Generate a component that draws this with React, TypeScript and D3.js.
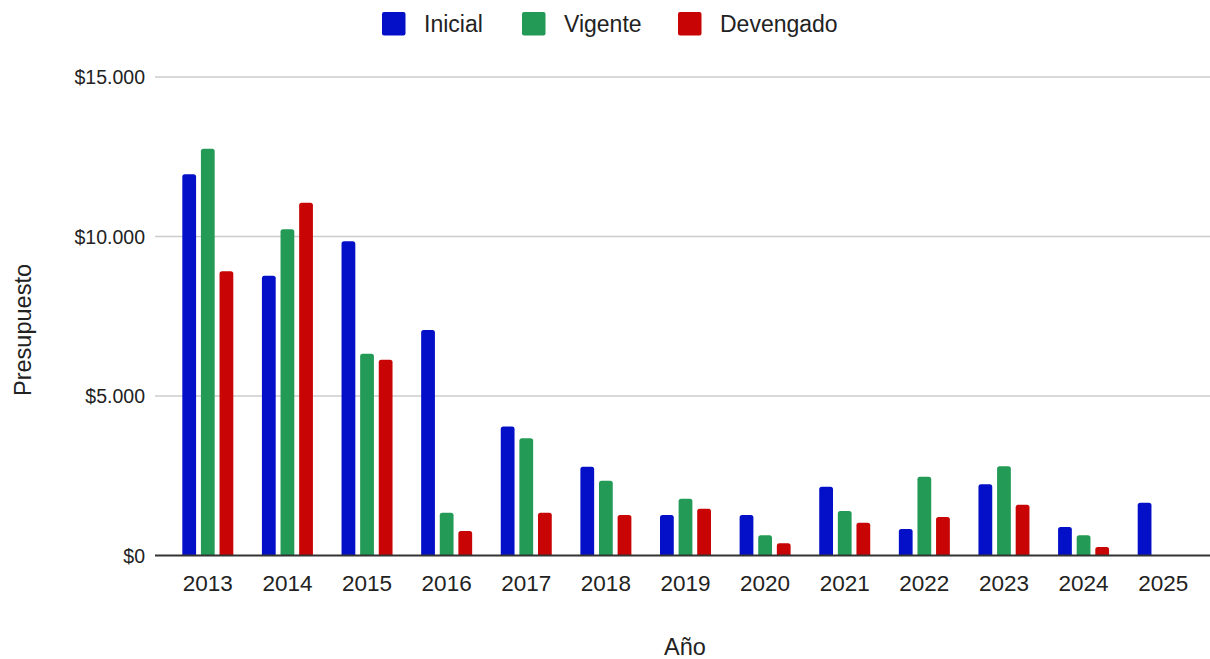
import React from "react";
import * as d3 from "d3";

const years = ["2013","2014","2015","2016","2017","2018","2019","2020","2021","2022","2023","2024","2025"];
const inicial = [11950, 8770, 9855, 7070, 4040, 2784, 1270, 1270, 2157, 830, 2232, 893, 1655];
const vigente = [12750, 10225, 6323, 1341, 3674, 2345, 1780, 633, 1395, 2470, 2796, 633, 0];
const devengado = [8910, 11055, 6135, 768, 1340, 1270, 1467, 382, 1028, 1207, 1592, 266, 0];
const seriesNames = ["Inicial", "Vigente", "Devengado"];
const seriesColors = ["#0410c8", "#239a56", "#c80404"];
const yTicks = [0, 5000, 10000, 15000];

const W = 1210, H = 659;
const font = "'Liberation Sans', Arial, sans-serif";

function topRounded(x: number, y: number, w: number, h: number, r: number) {
  if (h <= 0) return "";
  const rr = Math.min(r, h, w / 2);
  return `M${x},${y + h}V${y + rr}Q${x},${y} ${x + rr},${y}H${x + w - rr}Q${x + w},${y} ${x + w},${y + rr}V${y + h}Z`;
}

export default function App() {
  const series = [inicial, vigente, devengado];
  const x = d3.scaleBand<string>().domain(years).range([168, 1203]).paddingInner(0).paddingOuter(0);
  const y = d3.scaleLinear().domain([0, 15000]).range([555.5, 77]);
  const inner = d3.scaleBand<number>().domain([0, 1, 2]).range([0, 51]).paddingInner(0.26);
  const fmt = (v: number) => "$" + d3.format(",")(v).replace(/,/g, ".");
  const legendX = [382, 522, 678];

  return (
    <svg width={W} height={H} style={{ position: "absolute", left: 0, top: 0, background: "#fff" }} fontFamily={font}>
      <rect width={W} height={H} fill="#fff" />
      {seriesNames.map((n, i) => (
        <g key={n}>
          <rect x={legendX[i]} y={12} width={23.5} height={23.5} rx={2} fill={seriesColors[i]} />
          <text x={legendX[i] + 42} y={32} fontSize={23} fill="#222">{n}</text>
        </g>
      ))}
      {yTicks.map((t) => (
        <g key={t}>
          {t !== 0 && <line x1={155} x2={1210} y1={y(t)} y2={y(t)} stroke="#cccccc" strokeWidth={1.5} />}
          <text x={145} y={y(t) + 7} fontSize={19.5} textAnchor="end" fill="#222">{fmt(t)}</text>
        </g>
      ))}
      {years.map((yr, i) => {
        const cx = (x(yr) as number) + x.bandwidth() / 2;
        const gx = cx - 25.5;
        return (
          <g key={yr}>
            {series.map((s, k) => {
              const v = s[i];
              const top = y(v);
              return (
                <path key={k} d={topRounded(gx + (inner(k) as number), top, inner.bandwidth(), y(0) - top, 2.5)} fill={seriesColors[k]} />
              );
            })}
            <text x={cx} y={591} fontSize={22.5} textAnchor="middle" fill="#222">{yr}</text>
          </g>
        );
      })}
      <line x1={155} x2={1210} y1={y(0)} y2={y(0)} stroke="#333" strokeWidth={2} />
      <text x={685} y={655} fontSize={23.5} textAnchor="middle" fill="#222">Año</text>
      <text transform={`translate(31,330) rotate(-90)`} fontSize={23.5} textAnchor="middle" fill="#222">Presupuesto</text>
    </svg>
  );
}
